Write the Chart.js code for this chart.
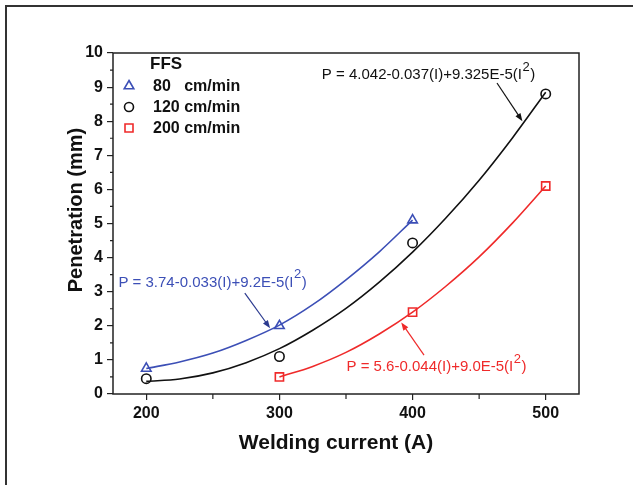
<!DOCTYPE html>
<html>
<head>
<meta charset="utf-8">
<script src="https://cdn.jsdelivr.net/npm/chart.js@4.4.1/dist/chart.umd.min.js"></script>
<style>
  html, body { margin: 0; padding: 0; background: #fff; }
  #wrap { width: 633px; height: 485px; position: relative; }
</style>
</head>
<body>
<div id="wrap"><canvas id="chart" width="633" height="485"></canvas></div>
<script>
// ── Measured points (welding current in A, penetration in mm) ──────────────
const ffs80I  = [200, 300, 400];
const ffs80P  = [0.75, 2.0, 5.1];
const ffs120I = [200, 300, 400, 500];
const ffs120P = [0.45, 1.1, 4.43, 8.8];
const ffs200I = [300, 400, 500];
const ffs200P = [0.5, 2.4, 6.1];

// ── Fitted curves ──────────────────────────────────────────────────────────
const fit80I  = [200, 225, 250, 275, 300, 325, 350, 375, 400];
const fit80P  = [0.75, 0.94, 1.2, 1.57, 2.02, 2.62, 3.35, 4.17, 5.1];
const fit120I = [200, 225, 250, 275, 300, 325, 350, 375, 400, 425, 450, 475, 500];
const fit120P = [0.37, 0.44, 0.62, 0.92, 1.33, 1.87, 2.51, 3.28, 4.16, 5.16, 6.27, 7.51, 8.85];
const fit200I = [300, 325, 350, 375, 400, 425, 450, 475, 500];
const fit200P = [0.5, 0.81, 1.22, 1.76, 2.4, 3.16, 4.02, 5.01, 6.1];

const legendLabels = ['80   cm/min', '120 cm/min', '200 cm/min'];
const fitLabels = [
  'P = 3.74-0.033(I)+9.2E-5(I',
  'P = 4.042-0.037(I)+9.325E-5(I',
  'P = 5.6-0.044(I)+9.0E-5(I'
];

const BLUE = '#3c4fb6';
const BLACK = '#111111';
const RED = '#ef2a2a';
const FONT = "'Liberation Sans', Arial, sans-serif";

const toXY = (xs, ys) => xs.map((x, i) => ({ x: x, y: ys[i] }));

function fitLine(xs, ys, color) {
  return {
    data: toXY(xs, ys),
    showLine: true,
    borderColor: color,
    borderWidth: 1.6,
    pointRadius: 0,
    cubicInterpolationMode: 'monotone',
    fill: false
  };
}

function markers(xs, ys, color, style, r) {
  return {
    data: toXY(xs, ys),
    showLine: false,
    pointStyle: style,
    pointRadius: r,
    pointBorderWidth: 1.6,
    pointBorderColor: color,
    pointBackgroundColor: 'rgba(255,255,255,0)'
  };
}

// ── Hand-drawn extras: frame, minor ticks, legend, fit labels, titles ──────
function arrow(ctx, x1, y1, x2, y2, color) {
  const ang = Math.atan2(y2 - y1, x2 - x1);
  const len = 8, wid = 3;
  ctx.strokeStyle = color;
  ctx.fillStyle = color;
  ctx.lineWidth = 1.2;
  ctx.beginPath();
  ctx.moveTo(x1, y1);
  ctx.lineTo(x2 - Math.cos(ang) * len * 0.8, y2 - Math.sin(ang) * len * 0.8);
  ctx.stroke();
  ctx.beginPath();
  ctx.moveTo(x2, y2);
  ctx.lineTo(x2 - Math.cos(ang) * len + Math.sin(ang) * wid, y2 - Math.sin(ang) * len - Math.cos(ang) * wid);
  ctx.lineTo(x2 - Math.cos(ang) * len - Math.sin(ang) * wid, y2 - Math.sin(ang) * len + Math.cos(ang) * wid);
  ctx.closePath();
  ctx.fill();
}

// equation text with a raised "2" before the closing bracket
function fitText(ctx, text, cx, cy, color) {
  ctx.fillStyle = color;
  ctx.textBaseline = 'middle';
  ctx.textAlign = 'left';
  ctx.font = '15px ' + FONT;
  const w1 = ctx.measureText(text).width;
  ctx.font = '13px ' + FONT;
  const w2 = ctx.measureText('2').width;
  ctx.font = '15px ' + FONT;
  const w3 = ctx.measureText(')').width;
  let x = cx - (w1 + w2 + w3) / 2;
  ctx.fillText(text, x, cy);
  x += w1 + 0.5;
  ctx.font = '13px ' + FONT;
  ctx.fillText('2', x, cy - 8);
  x += w2 + 0.5;
  ctx.font = '15px ' + FONT;
  ctx.fillText(')', x, cy);
}

function drawMarker(ctx, style, x, y, color) {
  ctx.strokeStyle = color;
  ctx.lineWidth = 1.6;
  ctx.beginPath();
  if (style === 'triangle') {
    ctx.moveTo(x, y - 5.5);
    ctx.lineTo(x + 4.8, y + 2.8);
    ctx.lineTo(x - 4.8, y + 2.8);
    ctx.closePath();
  } else if (style === 'circle') {
    ctx.arc(x, y, 4.5, 0, Math.PI * 2);
  } else {
    ctx.rect(x - 4, y - 4, 8, 8);
  }
  ctx.stroke();
}

const extras = {
  id: 'extras',
  afterDraw(chart) {
    const { ctx, chartArea: a, scales } = chart;
    const xs = scales.x, ys = scales.y;
    ctx.save();

    // outer figure frame (left and top edges)
    ctx.strokeStyle = '#333';
    ctx.lineWidth = 2;
    ctx.beginPath();
    ctx.moveTo(6, 485);
    ctx.lineTo(6, 6);
    ctx.lineTo(633, 6);
    ctx.stroke();

    // plot box
    ctx.strokeStyle = '#222';
    ctx.lineWidth = 1.5;
    ctx.strokeRect(a.left, a.top, a.right - a.left, a.bottom - a.top);

    // minor ticks
    ctx.lineWidth = 1.2;
    ctx.beginPath();
    for (let v = 0.5; v < 10; v += 1) {
      const py = ys.getPixelForValue(v);
      ctx.moveTo(a.left - 3, py);
      ctx.lineTo(a.left, py);
    }
    for (let v = 250; v < 525; v += 100) {
      const px = xs.getPixelForValue(v);
      ctx.moveTo(px, a.bottom);
      ctx.lineTo(px, a.bottom + 5);
    }
    ctx.stroke();

    // legend
    ctx.fillStyle = '#111';
    ctx.textBaseline = 'middle';
    ctx.textAlign = 'left';
    ctx.font = 'bold 17px ' + FONT;
    ctx.fillText('FFS', 150, 64);
    const styles = ['triangle', 'circle', 'rect'];
    const colors = [BLUE, BLACK, RED];
    const rows = [86, 107, 128];
    legendLabels.forEach((lab, i) => {
      drawMarker(ctx, styles[i], 129, rows[i], colors[i]);
      ctx.fillStyle = '#111';
      ctx.font = 'bold 16px ' + FONT;
      ctx.fillText(lab, 153, rows[i] + 1);
    });

    // fit equations with arrows (anchored in data units)
    const P = (x, y) => [xs.getPixelForValue(x), ys.getPixelForValue(y)];
    let t = P(249.4, 3.26);
    fitText(ctx, fitLabels[0], t[0], t[1], BLUE);
    let s = P(274, 2.96), e = P(293, 1.93);
    arrow(ctx, s[0], s[1], e[0], e[1], '#2b3a8f');

    t = P(411.6, 9.35);
    fitText(ctx, fitLabels[1], t[0], t[1], BLACK);
    s = P(463.4, 9.12); e = P(482.5, 8.0);
    arrow(ctx, s[0], s[1], e[0], e[1], BLACK);

    t = P(417.6, 0.79);
    fitText(ctx, fitLabels[2], t[0], t[1], RED);
    s = P(408.6, 1.14); e = P(391.5, 2.1);
    arrow(ctx, s[0], s[1], e[0], e[1], RED);

    // axis titles
    ctx.fillStyle = '#111';
    ctx.textAlign = 'center';
    ctx.font = 'bold 21px ' + FONT;
    ctx.fillText('Welding current (A)', 336, 443);
    ctx.translate(76, 210);
    ctx.rotate(-Math.PI / 2);
    ctx.font = 'bold 20px ' + FONT;
    ctx.fillText('Penetration (mm)', 0, 0);
    ctx.restore();
  }
};

new Chart(document.getElementById('chart'), {
  type: 'scatter',
  data: {
    datasets: [
      fitLine(fit80I, fit80P, BLUE),
      fitLine(fit120I, fit120P, BLACK),
      fitLine(fit200I, fit200P, RED),
      markers(ffs80I, ffs80P, BLUE, 'triangle', 5.5),
      markers(ffs120I, ffs120P, BLACK, 'circle', 4.7),
      markers(ffs200I, ffs200P, RED, 'rect', 5.8)
    ]
  },
  options: {
    responsive: false,
    animation: false,
    layout: { padding: { top: 53, right: 54, left: 0, bottom: 0 } },
    plugins: {
      legend: { display: false },
      tooltip: { enabled: false }
    },
    scales: {
      x: {
        type: 'linear',
        min: 175,
        max: 525,
        afterFit: s => { s.height = 91; },
        border: { display: false },
        grid: { drawOnChartArea: false, drawTicks: true, tickLength: 6, color: '#222', lineWidth: 1.2 },
        ticks: {
          stepSize: 100,
          includeBounds: false,
          autoSkip: false,
          maxRotation: 0,
          padding: 4,
          color: '#111',
          font: { family: FONT, size: 16, weight: 'bold' }
        }
      },
      y: {
        type: 'linear',
        min: 0,
        max: 10,
        afterFit: s => { s.width = 113; },
        border: { display: false },
        grid: { drawOnChartArea: false, drawTicks: true, tickLength: 6, color: '#222', lineWidth: 1.2 },
        ticks: {
          stepSize: 1,
          autoSkip: false,
          padding: 4,
          color: '#111',
          font: { family: FONT, size: 16, weight: 'bold' }
        }
      }
    }
  },
  plugins: [extras]
});
</script>
</body>
</html>
